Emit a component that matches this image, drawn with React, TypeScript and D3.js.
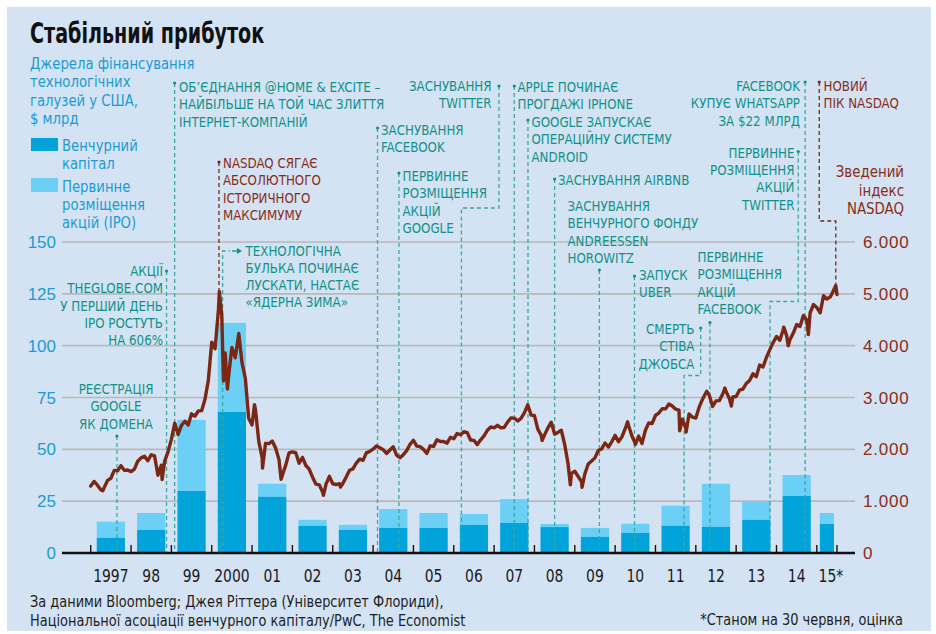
import { useEffect, useRef } from "react";
import * as d3 from "d3";

// financing of US tech, $bn
const years = [1997, 1998, 1999, 2000, 2001, 2002, 2003, 2004, 2005, 2006, 2007, 2008, 2009, 2010, 2011, 2012, 2013, 2014, 2015];
const yearLabels = ["1997", "98", "99", "2000", "01", "02", "03", "04", "05", "06", "07", "08", "09", "10", "11", "12", "13", "14", "15*"];
const ventureCapital = [7.3, 11.1, 29.9, 68, 27.1, 13.1, 11.1, 12.1, 12.1, 13.5, 14.5, 12.5, 7.8, 9.7, 13.1, 12.6, 16, 27.5, 14];
const ipo = [7.8, 8.2, 34.3, 43, 6.3, 2.9, 2.5, 9.1, 7.2, 5.3, 11.5, 1.5, 4.3, 4.4, 9.7, 20.8, 8.7, 10.1, 5.3];

// NASDAQ composite, month-end closes Jan 1997 - Jun 2015
const nasdaqStart = 1291;
const nasdaqMonthEnd = [
  1380, 1309, 1222, 1261, 1400, 1442, 1594, 1587, 1686, 1594, 1601, 1570,
  1619, 1771, 1836, 1868, 1779, 1895, 1872, 1499, 1694, 1771, 1950, 2193,
  2506, 2288, 2461, 2543, 2471, 2686, 2639, 2739, 2746, 2966, 3336, 4069,
  3940, 4697, 4573, 3861, 3401, 3966, 3767, 4206, 3673, 3370, 2598, 2471,
  2773, 2152, 1840, 2116, 2111, 2161, 2027, 1805, 1499, 1690, 1931, 1950,
  1934, 1732, 1845, 1688, 1616, 1463, 1328, 1315, 1172, 1330, 1479, 1336,
  1321, 1338, 1341, 1464, 1596, 1623, 1735, 1811, 1787, 1932, 1960, 2003,
  2066, 2030, 1994, 1920, 1987, 2048, 1887, 1838, 1897, 1975, 2097, 2175,
  2062, 2052, 1999, 1922, 2068, 2057, 2185, 2152, 2152, 2120, 2233, 2205,
  2306, 2281, 2340, 2323, 2179, 2172, 2092, 2184, 2258, 2367, 2432, 2415,
  2464, 2416, 2422, 2525, 2605, 2603, 2546, 2596, 2702, 2859, 2661, 2652,
  2390, 2272, 2279, 2413, 2523, 2293, 2326, 2368, 2092, 1721, 1536, 1577,
  1476, 1378, 1529, 1717, 1774, 1835, 1979, 2009, 2122, 2045, 2145, 2269,
  2147, 2238, 2398, 2461, 2257, 2109, 2255, 2114, 2369, 2507, 2498, 2653,
  2700, 2782, 2781, 2874, 2835, 2774, 2756, 2580, 2415, 2684, 2620, 2605,
  2814, 2967, 3092, 3046, 2827, 2935, 2940, 3067, 3116, 2977, 3010, 3020,
  3142, 3160, 3268, 3329, 3456, 3403, 3626, 3590, 3772, 3920, 4060, 4177,
  4104, 4308, 4199, 4115, 4243, 4408, 4370, 4580, 4493, 4631, 4792, 4736,
  4635, 4964, 4901, 4941, 5070, 4987,
];
// intra-month highs and lows
const nasdaqExtremes: [number, number][] = [
  [1997.3, 1201], [1998.77, 1419], [2000.19, 5048], [2000.29, 3321], [2000.39, 3164],
  [2000.67, 4234], [2001.06, 2859], [2001.26, 1638], [2001.72, 1423], [2002.77, 1114],
  [2003.19, 1271], [2008.19, 2169], [2008.89, 1316], [2009.18, 1268], [2010.31, 2530],
  [2010.5, 2091], [2011.6, 2358], [2011.76, 2335], [2012.27, 3120], [2012.72, 3183],
  [2012.88, 2836], [2014.18, 4358], [2014.29, 3999], [2014.79, 4214], [2015.47, 5160],
];

const leftTicks = [0, 25, 50, 75, 100, 125, 150];
const rightTicks = [0, 1000, 2000, 3000, 4000, 5000, 6000];

type Note = {
  lines: string[];
  dotDate: number;
  dotY: number;
  tx: number;
  ty: number;
  anchor: string;
  brown?: boolean;
  jogY?: number;
  date?: number;
  endValue?: number;
};

const notes: Note[] = [
  { lines: ["РЕЄСТРАЦІЯ", "GOOGLE", "ЯК ДОМЕНА"], dotDate: 1997.65, dotY: 436, tx: 116, ty: 389, anchor: "middle" },
  { lines: ["АКЦІЇ", "THEGLOBE.COM", "У ПЕРШИЙ ДЕНЬ", "IPO РОСТУТЬ", "НА 606%"], dotDate: 1998.88, dotY: 271, tx: 163, ty: 271, anchor: "end" },
  { lines: ["ОБ’ЄДНАННЯ @HOME & EXCITE –", "НАЙБІЛЬШЕ НА ТОЙ ЧАС ЗЛИТТЯ", "ІНТЕРНЕТ-КОМПАНІЙ"], dotDate: 1999.08, dotY: 83, tx: 179, ty: 87, anchor: "start" },
  { lines: ["NASDAQ СЯГАЄ", "АБСОЛЮТНОГО", "ІСТОРИЧНОГО", "МАКСИМУМУ"], dotDate: 2000.18, dotY: 162, tx: 223, ty: 163, anchor: "start", brown: true, endValue: 5048 },
  { lines: ["ЗАСНУВАННЯ", "FACEBOOK"], dotDate: 2004.11, dotY: 128, tx: 381, ty: 130, anchor: "start" },
  { lines: ["ПЕРВИННЕ", "РОЗМІЩЕННЯ", "АКЦІЙ", "GOOGLE"], dotDate: 2004.64, dotY: 173, tx: 402.5, ty: 176, anchor: "start" },
  { lines: ["ЗАСНУВАННЯ", "TWITTER"], dotDate: 2007.12, dotY: 86, tx: 491.5, ty: 86, anchor: "end", jogY: 208, date: 2006.19 },
  { lines: ["APPLE ПОЧИНАЄ", "ПРОГДАЖІ IPHONE"], dotDate: 2007.5, dotY: 86, tx: 517.5, ty: 87, anchor: "start" },
  { lines: ["GOOGLE ЗАПУСКАЄ", "ОПЕРАЦІЙНУ СИСТЕМУ", "ANDROID"], dotDate: 2007.84, dotY: 120, tx: 531.5, ty: 122, anchor: "start" },
  { lines: ["ЗАСНУВАННЯ AIRBNB"], dotDate: 2008.5, dotY: 179, tx: 558, ty: 180, anchor: "start" },
  { lines: ["ЗАСНУВАННЯ", "ВЕНЧУРНОГО ФОНДУ", "ANDREESSEN", "HOROWITZ"], dotDate: 2009.61, dotY: 270, tx: 567.5, ty: 206, anchor: "start" },
  { lines: ["ЗАПУСК", "UBER"], dotDate: 2010.48, dotY: 276, tx: 639, ty: 274.5, anchor: "start" },
  { lines: ["СМЕРТЬ", "СТІВА", "ДЖОБСА"], dotDate: 2012.12, dotY: 328, tx: 694.5, ty: 329, anchor: "end", jogY: 375.5, date: 2011.71 },
  { lines: ["ПЕРВИННЕ", "РОЗМІЩЕННЯ", "АКЦІЙ", "FACEBOOK"], dotDate: 2012.35, dotY: 322.5, tx: 697.5, ty: 257, anchor: "start" },
  { lines: ["ПЕРВИННЕ", "РОЗМІЩЕННЯ", "АКЦІЙ", "TWITTER"], dotDate: 2014.54, dotY: 151.5, tx: 794.5, ty: 152.5, anchor: "end", jogY: 301.5, date: 2013.84 },
  { lines: ["FACEBOOK", "КУПУЄ WHATSAPP", "ЗА $22 МЛРД"], dotDate: 2014.71, dotY: 82, tx: 800, ty: 86, anchor: "end" },
  { lines: ["НОВИЙ", "ПІК NASDAQ"], dotDate: 2015.06, dotY: 82, tx: 823.5, ty: 86, anchor: "start", brown: true, jogY: 221, date: 2015.47, endValue: 5160 },
];
const bubbleNote = ["ТЕХНОЛОГІЧНА", "БУЛЬКА ПОЧИНАЄ", "ЛУСКАТИ, НАСТАЄ", "«ЯДЕРНА ЗИМА»"];
const bubbleDate = 2000.27;

const NARROW = "'Liberation Sans Narrow', 'DejaVu Sans Condensed', 'Arial Narrow', sans-serif";
const PANEL = "#d3e3f3";
const DARK_BLUE = "#00a3da";
const LIGHT_BLUE = "#6ccff6";
const TEAL = "#12918a";
const TEAL_LINE = "#3ca8a1";
const BROWN = "#7b2713";
const BROWN_TEXT = "#8a2c18";
const AXIS_BLUE = "#1a9ad6";

function NasdaqChart() {
  const svgRef = useRef<SVGSVGElement>(null);

  useEffect(() => {
    const svg = d3.select(svgRef.current);
    svg.selectAll("*").remove();

    const x = d3.scaleLinear().domain([1997, 2015.5]).range([90.7, 837]);
    const yL = d3.scaleLinear().domain([0, 150]).range([553, 242]);
    const yR = d3.scaleLinear().domain([0, 6000]).range([553, 242]);
    const fmt = d3.formatLocale({ decimal: ",", thousands: ".", grouping: [3], currency: ["", ""] }).format(",");

    svg.append("rect").attr("x", 7).attr("y", 7).attr("width", 924).attr("height", 624).attr("fill", PANEL);

    // the condensed face is squeezed a little more to get the Economist look
    const textBlock = (parent, lines, tx, ty, lh, anchor, sx = 1) => {
      const g = parent.append("g").attr("transform", `translate(${tx},${ty}) scale(${sx},1)`);
      g.selectAll("text").data(lines).join("text")
        .attr("x", 0).attr("y", (d, i) => i * lh).attr("dy", "0.36em")
        .attr("text-anchor", anchor).text((d) => d);
      return g;
    };

    textBlock(svg.append("g").attr("font-family", NARROW).attr("font-weight", "bold").attr("font-size", 28).attr("fill", "#111"),
      ["Стабільний прибуток"], 30, 33, 0, "start", 0.76);

    const legend = svg.append("g").attr("font-family", NARROW).attr("font-size", 16).attr("fill", AXIS_BLUE);
    textBlock(legend, ["Джерела фінансування", "технологічних", "галузей у США,", "$ млрд"], 30, 63.5, 18.2, "start", 0.92);
    legend.append("rect").attr("x", 31).attr("y", 138).attr("width", 27).attr("height", 13).attr("fill", DARK_BLUE);
    legend.append("rect").attr("x", 31).attr("y", 178).attr("width", 27).attr("height", 14).attr("fill", LIGHT_BLUE);
    textBlock(legend, ["Венчурний", "капітал"], 62, 145, 18, "start", 0.92);
    textBlock(legend, ["Первинне", "розміщення", "акцій (IPO)"], 62, 186, 17.9, "start", 0.92);

    svg.append("g").selectAll("line").data(leftTicks.slice(1)).join("line")
      .attr("x1", 62).attr("x2", 855).attr("y1", (d) => yL(d)).attr("y2", (d) => yL(d))
      .attr("stroke", "#b9b9b9").attr("stroke-width", 1.6);

    svg.append("g").attr("font-family", "'Liberation Sans', Arial, sans-serif").attr("font-size", 17).attr("fill", AXIS_BLUE)
      .selectAll("text").data(leftTicks).join("text")
      .attr("x", 56).attr("y", (d) => yL(d)).attr("dy", "0.36em").attr("text-anchor", "end").text((d) => d);

    svg.append("g").attr("font-family", "'Liberation Sans', Arial, sans-serif").attr("font-size", 17).attr("fill", BROWN_TEXT)
      .attr("letter-spacing", 0.8)
      .selectAll("text").data(rightTicks).join("text")
      .attr("x", 863).attr("y", (d) => yR(d)).attr("dy", "0.36em").text((d) => fmt(d));

    const span = (yr) => (yr === 2015 ? 0.5 : 1);
    const bars = svg.append("g");
    bars.selectAll("rect.ipo").data(years).join("rect")
      .attr("x", (d) => x(d + 0.15 * span(d)))
      .attr("width", (d) => x(d + 0.85 * span(d)) - x(d + 0.15 * span(d)))
      .attr("y", (d, i) => yL(ventureCapital[i] + ipo[i]))
      .attr("height", (d, i) => yL(ventureCapital[i]) - yL(ventureCapital[i] + ipo[i]))
      .attr("fill", LIGHT_BLUE);
    bars.selectAll("rect.vc").data(years).join("rect")
      .attr("x", (d) => x(d + 0.15 * span(d)))
      .attr("width", (d) => x(d + 0.85 * span(d)) - x(d + 0.15 * span(d)))
      .attr("y", (d, i) => yL(ventureCapital[i]))
      .attr("height", (d, i) => yL(0) - yL(ventureCapital[i]))
      .attr("fill", DARK_BLUE);

    // annotation leaders
    const leaders = svg.append("g").attr("fill", "none").attr("stroke-width", 1.3).attr("stroke-dasharray", "4,3");
    notes.forEach((n) => {
      const x0 = x(n.dotDate);
      const endY = n.endValue ? yR(n.endValue) : yL(0);
      const path = d3.path();
      path.moveTo(x0, n.dotY);
      if (n.jogY) {
        path.lineTo(x0, n.jogY);
        path.lineTo(x(n.date), n.jogY);
        path.lineTo(x(n.date), endY);
      } else {
        path.lineTo(x0, endY);
      }
      leaders.append("path").attr("d", path.toString()).attr("stroke", n.brown ? BROWN : TEAL_LINE);
      svg.append("circle").attr("cx", x0).attr("cy", n.dotY).attr("r", 1.6).attr("fill", n.brown ? BROWN : TEAL);
    });
    const bx = x(bubbleDate);
    leaders.append("path").attr("d", `M${bx},${yL(0)}V251H230`).attr("stroke", TEAL_LINE);
    svg.append("path").attr("d", "M232,251H238").attr("stroke", TEAL).attr("stroke-width", 1.3);
    svg.append("path").attr("d", "M237,248L242,251L237,254Z").attr("fill", TEAL);

    // baseline and year ticks
    svg.append("line").attr("x1", 62).attr("x2", 855).attr("y1", yL(0)).attr("y2", yL(0))
      .attr("stroke", "#111").attr("stroke-width", 2.6);
    svg.append("g").selectAll("line").data([...years, 2015.5]).join("line")
      .attr("x1", (d) => x(d)).attr("x2", (d) => x(d)).attr("y1", yL(0)).attr("y2", yL(0) - 8)
      .attr("stroke", "#111").attr("stroke-width", 1.4);

    const yearText = svg.append("g").attr("font-family", NARROW).attr("font-size", 18).attr("fill", "#1a1a1a");
    years.forEach((yr, i) => {
      textBlock(yearText, [yearLabels[i]], x(yr + span(yr) / 2) + (yr === 2015 ? 4 : 0), 576, 0, "middle", 0.86);
    });

    // NASDAQ line
    const nasdaq: [number, number][] = [[1997, nasdaqStart]];
    nasdaqMonthEnd.forEach((v, i) => nasdaq.push([1997 + (i + 1) / 12, v]));
    nasdaqExtremes.forEach((p) => nasdaq.push(p));
    nasdaq.sort((a, b) => a[0] - b[0]);
    svg.append("path").datum(nasdaq)
      .attr("d", d3.line<[number, number]>().x((d) => x(d[0])).y((d) => yR(d[1])))
      .attr("fill", "none").attr("stroke", BROWN).attr("stroke-width", 3.4)
      .attr("stroke-linejoin", "round").attr("stroke-linecap", "round");

    // annotation texts
    const noteText = svg.append("g").attr("font-family", NARROW).attr("font-size", 14.2);
    notes.forEach((n) => {
      const g = noteText.append("g").attr("fill", n.brown ? BROWN_TEXT : TEAL);
      textBlock(g, n.lines, n.tx, n.ty, 17.3, n.anchor, 0.93);
    });
    textBlock(noteText.append("g").attr("fill", TEAL), bubbleNote, 245.5, 251, 17, "start", 0.93);

    textBlock(svg.append("g").attr("font-family", NARROW).attr("font-size", 16.5).attr("fill", BROWN_TEXT),
      ["Зведений", "індекс", "NASDAQ"], 904, 171.5, 18.3, "end", 0.9);

    const foot = svg.append("g").attr("font-family", NARROW).attr("font-size", 15).attr("fill", "#1e1e1e");
    textBlock(foot, ["За даними Bloomberg; Джея Ріттера (Університет Флориди),",
      "Національної асоціації венчурного капіталу/PwC, The Economist"], 30, 602, 18.3, "start", 0.96);
    textBlock(foot, ["*Станом на 30 червня, оцінка"], 903, 620, 18, "end", 0.96);
  }, []);

  return <svg ref={svgRef} width={936} height={634} style={{ position: "absolute", left: 0, top: 0 }}></svg>;
}

export default function App() {
  return <NasdaqChart />;
}
